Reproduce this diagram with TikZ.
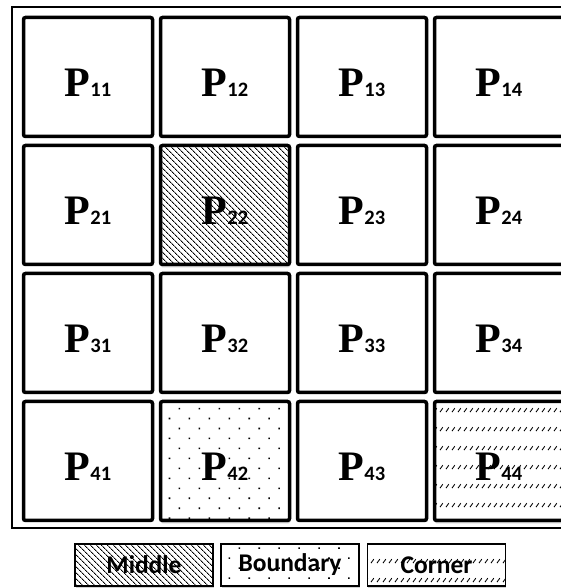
\documentclass[tikz,border=0pt]{standalone}
\usepackage{fontspec}
\usetikzlibrary{patterns,patterns.meta,shadows}
\newfontfamily\pfont{Liberation Serif}
\newfontfamily\cfont{Carlito}

% Short slashes in rows, for the corner block.
\pgfdeclarepatternformonly{cornerslash}{\pgfpointorigin}{\pgfpoint{5.7pt}{18.5pt}}{\pgfpoint{5.7pt}{18.5pt}}{
  \pgfsetlinewidth{0.9pt}
  \pgfpathmoveto{\pgfpoint{1pt}{7pt}}
  \pgfpathlineto{\pgfpoint{4pt}{11pt}}
  \pgfusepath{stroke}
}

\begin{document}
\begin{tikzpicture}[x=1pt,y=1pt,
  cell/.style={draw, line width=3.5pt, rounded corners=2pt, minimum width=129pt,
    minimum height=119pt, inner sep=0pt, text height=39pt, text depth=0pt},
  shaded/.style={drop shadow={shadow xshift=0.5pt, shadow yshift=-3pt, opacity=0.35},
    preaction={fill=white}},
  middle/.style={shaded, pattern={Lines[angle=-45,distance=4pt,line width=1pt]}},
  boundary/.style={shaded, pattern={Dots[angle=45,distance=14.1pt,radius=1.1pt]}},
  corner/.style={shaded, pattern=cornerslash},
  kind22/.style={middle}, kind42/.style={boundary}, kind44/.style={corner},
  keybox/.style={draw, line width=1.5pt, minimum height=42pt, minimum width=138pt,
    inner sep=0pt, font=\cfont\bfseries\fontsize{25.5}{25.5}\selectfont},
  bigp/.style={font=\pfont\bfseries\fontsize{42}{42}\selectfont},
]
\useasboundingbox (0,0) rectangle (561,588);
\fill[white] (0,0) rectangle (561,588);
\clip (0,0) rectangle (561,588);

% Outer frame, cut at the right edge.
\draw[line width=2.5pt] (12,60) rectangle (580,581);

% The 4x4 blocks.
\foreach \r in {1,...,4} {
  \foreach \c in {1,...,4} {
    \node[cell, bigp, kind\r\c/.try] (p\r\c) at ({88+137*(\c-1)},{511-128*(\r-1)})
      {P{\cfont\bfseries\fontsize{20.5}{20.5}\selectfont\r\c}};
  }
}

% Legend.
\node[keybox, middle] (kmid) at (144,23) {Middle};
\node[keybox, boundary] (kbnd) at (290,23) {Boundary};
\node[keybox, corner] (kcor) at (436.5,23) {Corner};
\end{tikzpicture}
\end{document}
